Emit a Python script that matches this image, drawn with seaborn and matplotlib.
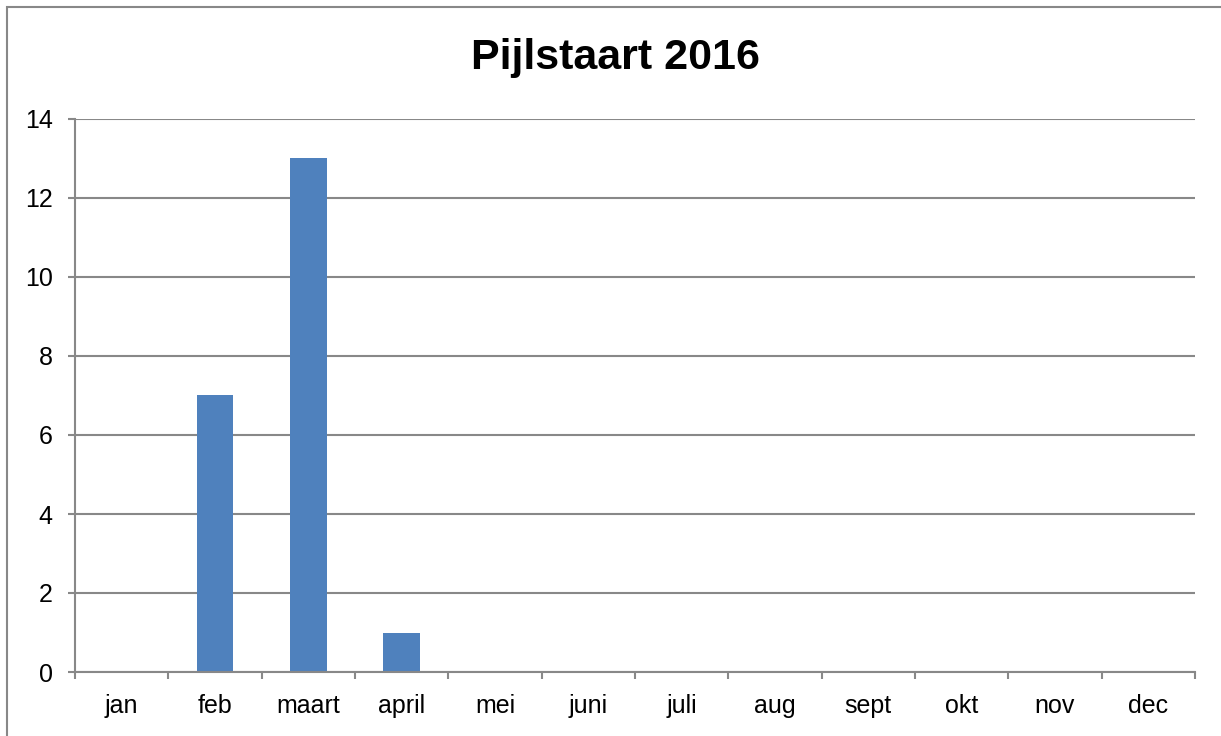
import matplotlib
matplotlib.use("Agg")
import matplotlib.pyplot as plt
import seaborn as sns
import numpy as np
from matplotlib.patches import Rectangle

months = ["jan", "feb", "maart", "april", "mei", "juni", "juli", "aug", "sept", "okt", "nov", "dec"]
counts = [0, 7, 13, 1, 0, 0, 0, 0, 0, 0, 0, 0]
y_ticks = [0, 2, 4, 6, 8, 10, 12, 14]
title = "Pijlstaart 2016"

sns.set_theme(style="white")
plt.rcParams['font.family'] = ['Liberation Sans', 'DejaVu Sans']
plt.rcParams['text.color'] = 'black'

fig = plt.figure(figsize=(12.21, 7.36), dpi=100)
ax = fig.add_axes([75/1221, 1-672/736, (1195-75)/1221, (672-119)/736])

sns.barplot(x=months, y=counts, color="#4F81BD", width=0.39, saturation=1, linewidth=0, ax=ax)

ax.set_ylim(0, 14)
ax.set_xlim(-0.5, len(months) - 0.5)
ax.set_yticks(y_ticks)
ax.set_yticklabels([str(v) for v in y_ticks])
ax.yaxis.grid(True, color="#888888", linewidth=1.5)
ax.set_axisbelow(True)
for s in ["top", "right"]:
    ax.spines[s].set_visible(False)
for s in ["left", "bottom"]:
    ax.spines[s].set_color("#888888")
    ax.spines[s].set_linewidth(1.5)

ax.tick_params(axis="y", length=5, width=1.5, color="#888888", pad=11, labelsize=18, labelcolor="black", left=True)
ax.tick_params(axis="x", which="major", length=0, pad=16, labelsize=18, labelcolor="black")
ax.set_xticks(np.arange(-0.5, len(months)), minor=True)
ax.tick_params(axis="x", which="minor", length=5, width=1.5, color="#888888", bottom=True, direction="out")
ax.set_xlabel("")
ax.set_ylabel("")

fig.text(615/1221, 1-58/736, title, ha="center", va="center", fontsize=31, fontweight="bold", color="black")

fig.patches.append(Rectangle((7/1221, -0.1), 1.2, 1.1 - 7/736, transform=fig.transFigure,
                             fill=False, edgecolor="#888888", linewidth=1.5))

fig.savefig("out.png", dpi=100)
